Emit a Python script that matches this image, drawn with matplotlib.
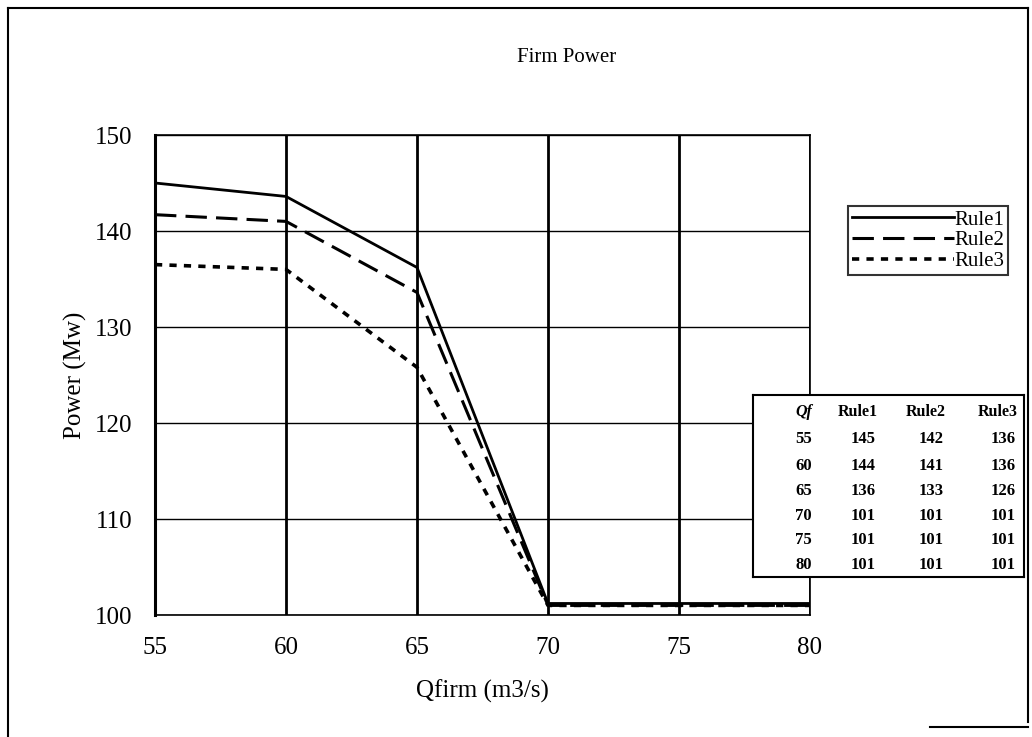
import matplotlib
matplotlib.use("Agg")
import matplotlib.pyplot as plt
from matplotlib.lines import Line2D

plt.rcParams['font.family'] = ['Liberation Serif', 'DejaVu Serif']

qf = [55, 60, 65, 70, 75, 80]
rule1 = [145.0, 143.6, 136.2, 101.2, 101.2, 101.2]
rule2 = [141.7, 141.0, 133.6, 101.0, 101.0, 101.0]
rule3 = [136.5, 136.0, 125.8, 101.0, 101.0, 101.0]

table_header = ["Qf", "Rule1", "Rule2", "Rule3"]
table_qf = ["55", "60", "65", "70", "75", "80"]
table_r1 = ["145", "144", "136", "101", "101", "101"]
table_r2 = ["142", "141", "133", "101", "101", "101"]
table_r3 = ["136", "136", "126", "101", "101", "101"]

W, H = 1032, 737
fig = plt.figure(figsize=(W / 100, H / 100), dpi=100)

def fx(px):
    return px / W

def fy(py):
    return 1 - py / H

ax = fig.add_axes([fx(155), fy(615), fx(810) - fx(155), fy(135) - fy(615)])
ax.set_xlim(55, 80)
ax.set_ylim(100, 150)
ax.set_xticks([55, 60, 65, 70, 75, 80])
ax.set_yticks([100, 110, 120, 130, 140, 150])
ax.tick_params(axis='both', length=0, labelsize=18)
ax.tick_params(axis='x', pad=16)
ax.tick_params(axis='y', pad=16)
ax.xaxis.grid(True, color='black', linewidth=2.0)
ax.yaxis.grid(True, color='black', linewidth=1.0)
ax.set_axisbelow(True)
for side in ['left', 'top', 'right', 'bottom']:
    ax.spines[side].set_color('black')
ax.spines['left'].set_linewidth(2.2)
ax.spines['top'].set_linewidth(1.2)
ax.spines['right'].set_linewidth(1.2)
ax.spines['bottom'].set_linewidth(1.2)

l1, = ax.plot(qf, rule1, color='black', linewidth=2.0, linestyle='-', label='Rule1')
l2, = ax.plot(qf, rule2, color='black', linewidth=2.2, linestyle=(0, (7, 3)), label='Rule2')
l3, = ax.plot(qf, rule3, color='black', linewidth=2.6, linestyle=(0, (2, 2)), label='Rule3')

ax.set_xlabel("Qfirm (m3/s)", fontsize=18, labelpad=15)
ax.set_ylabel("Power (Mw)", fontsize=18, labelpad=6)
fig.text(fx(567), fy(57), "Firm Power", fontsize=15, ha='center', va='center')

leg = fig.legend(handles=[l1, l2, l3], loc='upper left',
                 bbox_to_anchor=(fx(848), fy(206)), bbox_transform=fig.transFigure,
                 fontsize=15, handlelength=4.9, handletextpad=0.0,
                 borderpad=0.2, labelspacing=0.05, borderaxespad=0,
                 frameon=True, fancybox=False, edgecolor='black')
leg.get_frame().set_linewidth(1.5)

# data table box
tab_ax = fig.add_axes([fx(753), fy(577), fx(1024) - fx(753), fy(395) - fy(577)])
tab_ax.set_xlim(753, 1024)
tab_ax.set_ylim(577, 395)
tab_ax.set_xticks([])
tab_ax.set_yticks([])
for s in tab_ax.spines.values():
    s.set_linewidth(1.5)
    s.set_color('black')
col_x = [795, 878, 946, 1018]
row_y = [412, 439, 466, 491, 516, 540, 565]
tab_ax.text(col_x[0], row_y[0], table_header[0], ha='left', va='center', fontsize=11.5, fontweight='bold', fontstyle='italic')
for j in range(1, 4):
    tab_ax.text(col_x[j], row_y[0], table_header[j], ha='right', va='center', fontsize=11.5, fontweight='bold')
cols = [table_r1, table_r2, table_r3]
for i in range(len(table_qf)):
    tab_ax.text(col_x[0], row_y[i + 1], table_qf[i], ha='left', va='center', fontsize=12, fontweight='bold')
    for j in range(3):
        tab_ax.text(col_x[j + 1] - 2, row_y[i + 1], cols[j][i], ha='right', va='center', fontsize=12, fontweight='bold')

# outer frame
frame_kw = dict(color='black', linewidth=1.5, transform=fig.transFigure)
fig.add_artist(Line2D([fx(8), fx(8)], [fy(8), fy(737)], **frame_kw))
fig.add_artist(Line2D([fx(8), fx(1028)], [fy(8), fy(8)], **frame_kw))
fig.add_artist(Line2D([fx(1028), fx(1028)], [fy(8), fy(722)], **frame_kw))
fig.add_artist(Line2D([fx(930), fx(1028)], [fy(727), fy(727)], **frame_kw))

fig.savefig("out.png", dpi=100)
